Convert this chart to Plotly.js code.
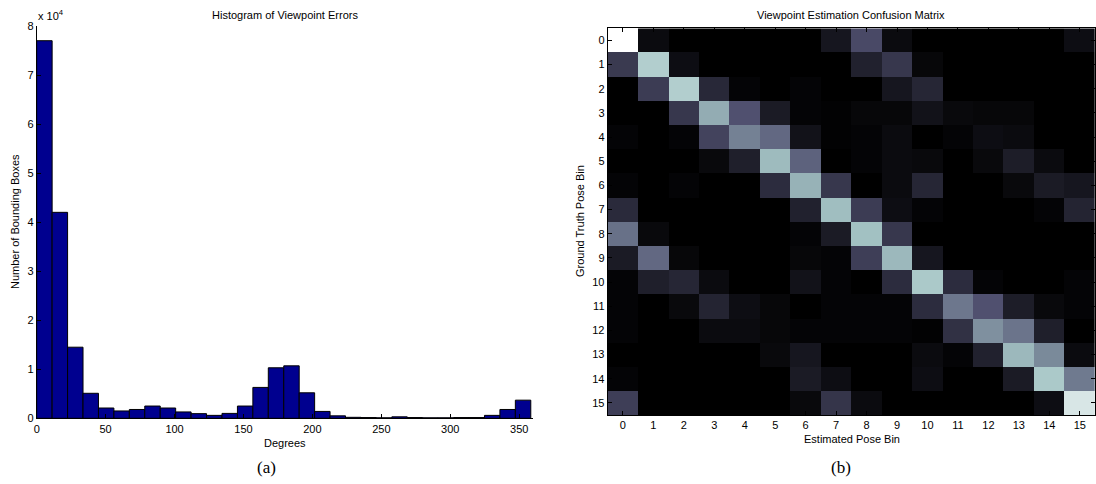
<!DOCTYPE html>
<html>
<head>
<meta charset="utf-8">
<script src="https://cdn.plot.ly/plotly-3.0.1.min.js"></script>
<style>html,body{margin:0;padding:0;background:#fff;}#chart{width:1096px;height:484px;}</style>
</head>
<body>
<div id="chart"></div>
<script>
// Histogram of viewpoint errors: 32 bins of 11.2 degrees starting at 0
const binWidth = 11.2;
const histCounts = [77000, 42000, 14500, 5100, 2100, 1500, 1800, 2500, 2100, 1300, 950, 600, 1000, 2500, 6300, 10300,
                    10700, 5200, 1400, 500, 200, 150, 100, 300, 150, 100, 100, 150, 150, 600, 1800, 3700];
const binCenters = histCounts.map((_, i) => (i + 0.5) * binWidth);
const histTickVals = [0, 50, 100, 150, 200, 250, 300, 350];
const histYTickVals = [0, 10000, 20000, 30000, 40000, 50000, 60000, 70000, 80000];
const histYTickText = ['0', '1', '2', '3', '4', '5', '6', '7', '8'];

// Confusion matrix (row = ground truth bin, column = estimated bin), normalised 0..1
const poseBins = [0, 1, 2, 3, 4, 5, 6, 7, 8, 9, 10, 11, 12, 13, 14, 15];
const confusion = [
  [1.00, 0.05, 0.00, 0.00, 0.00, 0.00, 0.00, 0.10, 0.33, 0.05, 0.00, 0.00, 0.00, 0.00, 0.00, 0.06],
  [0.26, 0.78, 0.06, 0.00, 0.00, 0.00, 0.00, 0.00, 0.15, 0.25, 0.03, 0.00, 0.00, 0.00, 0.00, 0.00],
  [0.00, 0.27, 0.78, 0.18, 0.02, 0.00, 0.02, 0.00, 0.00, 0.10, 0.17, 0.00, 0.00, 0.00, 0.00, 0.00],
  [0.00, 0.00, 0.25, 0.66, 0.36, 0.12, 0.02, 0.01, 0.03, 0.03, 0.08, 0.04, 0.03, 0.03, 0.00, 0.00],
  [0.02, 0.00, 0.02, 0.30, 0.52, 0.44, 0.08, 0.01, 0.02, 0.05, 0.00, 0.02, 0.06, 0.05, 0.00, 0.00],
  [0.00, 0.00, 0.00, 0.04, 0.14, 0.71, 0.42, 0.00, 0.02, 0.05, 0.04, 0.00, 0.04, 0.13, 0.05, 0.00],
  [0.02, 0.00, 0.02, 0.00, 0.00, 0.20, 0.68, 0.25, 0.00, 0.05, 0.17, 0.00, 0.00, 0.04, 0.12, 0.10],
  [0.19, 0.00, 0.00, 0.00, 0.00, 0.00, 0.15, 0.72, 0.27, 0.06, 0.02, 0.00, 0.00, 0.00, 0.02, 0.16],
  [0.47, 0.04, 0.00, 0.00, 0.00, 0.00, 0.02, 0.12, 0.73, 0.25, 0.00, 0.00, 0.00, 0.00, 0.00, 0.00],
  [0.12, 0.44, 0.03, 0.00, 0.00, 0.00, 0.03, 0.02, 0.28, 0.70, 0.10, 0.00, 0.00, 0.00, 0.00, 0.00],
  [0.02, 0.14, 0.17, 0.05, 0.00, 0.00, 0.08, 0.02, 0.00, 0.20, 0.76, 0.20, 0.02, 0.00, 0.00, 0.02],
  [0.02, 0.00, 0.04, 0.16, 0.06, 0.03, 0.00, 0.02, 0.02, 0.02, 0.20, 0.49, 0.36, 0.13, 0.04, 0.02],
  [0.02, 0.00, 0.00, 0.05, 0.05, 0.03, 0.02, 0.02, 0.02, 0.02, 0.01, 0.22, 0.57, 0.48, 0.14, 0.00],
  [0.00, 0.00, 0.00, 0.00, 0.00, 0.04, 0.10, 0.00, 0.00, 0.00, 0.05, 0.02, 0.15, 0.70, 0.55, 0.05],
  [0.02, 0.00, 0.00, 0.00, 0.00, 0.00, 0.12, 0.06, 0.00, 0.00, 0.06, 0.00, 0.00, 0.12, 0.76, 0.50],
  [0.28, 0.00, 0.00, 0.00, 0.00, 0.00, 0.04, 0.24, 0.05, 0.00, 0.00, 0.00, 0.00, 0.00, 0.06, 0.89]
];

// MATLAB "bone" colormap
const boneScale = [
  [0, 'rgb(0,0,0)'],
  [0.365, 'rgb(81,81,113)'],
  [0.746, 'rgb(166,198,198)'],
  [1, 'rgb(255,255,255)']
];

const W = 1096, H = 484;
const px = v => v / W;
const py = v => 1 - v / H;
const sans = 'Liberation Sans, Arial, sans-serif';
const serif = 'Liberation Serif, Times New Roman, serif';

const traces = [
  {
    type: 'bar', x: binCenters, y: histCounts, width: binWidth,
    marker: {color: 'rgb(0,0,143)', line: {color: '#000', width: 1}},
    xaxis: 'x', yaxis: 'y', hoverinfo: 'x+y'
  },
  {
    type: 'heatmap', x: poseBins, y: poseBins, z: confusion,
    colorscale: boneScale, zmin: 0, zmax: 1, showscale: false,
    xaxis: 'x2', yaxis: 'y2'
  }
];

const tickFont = {family: sans, size: 11, color: '#000'};
const labFont = {family: sans, size: 11, color: '#000'};
const layout = {
  width: W, height: H,
  margin: {l: 0, r: 0, t: 0, b: 0},
  paper_bgcolor: '#fff', plot_bgcolor: '#fff',
  showlegend: false,
  bargap: 0,
  xaxis: {
    domain: [px(36.7), px(533)], range: [0, 360],
    tickvals: histTickVals, ticks: 'inside', ticklen: 4, tickcolor: '#000',
    showline: true, linecolor: '#000', linewidth: 1, showgrid: false, zeroline: false,
    tickfont: tickFont, anchor: 'y'
  },
  yaxis: {
    domain: [py(418.3), py(26)], range: [0, 80000],
    tickvals: histYTickVals, ticktext: histYTickText, ticks: 'inside', ticklen: 4, tickcolor: '#000',
    showline: true, linecolor: '#000', linewidth: 1, showgrid: false, zeroline: false,
    tickfont: tickFont, anchor: 'x'
  },
  xaxis2: {
    domain: [px(607.7), px(1095)], range: [-0.5, 15.5],
    tickvals: poseBins, ticks: 'inside', ticklen: 4, tickcolor: '#000',
    showline: true, mirror: 'ticks', linecolor: '#000', linewidth: 1,
    showgrid: false, zeroline: false, tickfont: tickFont, anchor: 'y2'
  },
  yaxis2: {
    domain: [py(415), py(28.3)], range: [15.5, -0.5],
    tickvals: poseBins, ticks: 'inside', ticklen: 4, tickcolor: '#000',
    showline: true, mirror: 'ticks', linecolor: '#000', linewidth: 1,
    showgrid: false, zeroline: false, tickfont: tickFont, anchor: 'x2'
  },
  annotations: [
    {text: 'Histogram of Viewpoint Errors', xref: 'paper', yref: 'paper', x: px(285), y: py(15),
     showarrow: false, xanchor: 'center', yanchor: 'middle', font: labFont},
    {text: 'x 10<sup>4</sup>', xref: 'paper', yref: 'paper', x: px(36), y: py(15),
     showarrow: false, xanchor: 'left', yanchor: 'middle', font: labFont},
    {text: 'Degrees', xref: 'paper', yref: 'paper', x: px(285), y: py(443),
     showarrow: false, xanchor: 'center', yanchor: 'middle', font: labFont},
    {text: 'Number of Bounding Boxes', xref: 'paper', yref: 'paper', x: px(15), y: py(222), textangle: -90,
     showarrow: false, xanchor: 'center', yanchor: 'middle', font: labFont},
    {text: 'Viewpoint Estimation Confusion Matrix', xref: 'paper', yref: 'paper', x: px(851), y: py(15),
     showarrow: false, xanchor: 'center', yanchor: 'middle', font: labFont},
    {text: 'Estimated Pose Bin', xref: 'paper', yref: 'paper', x: px(852), y: py(439),
     showarrow: false, xanchor: 'center', yanchor: 'middle', font: labFont},
    {text: 'Ground Truth Pose Bin', xref: 'paper', yref: 'paper', x: px(580), y: py(221), textangle: -90,
     showarrow: false, xanchor: 'center', yanchor: 'middle', font: labFont},
    {text: '(a)', xref: 'paper', yref: 'paper', x: px(266), y: py(467),
     showarrow: false, xanchor: 'center', yanchor: 'middle', font: {family: serif, size: 17, color: '#000'}},
    {text: '(b)', xref: 'paper', yref: 'paper', x: px(841), y: py(467),
     showarrow: false, xanchor: 'center', yanchor: 'middle', font: {family: serif, size: 17, color: '#000'}}
  ]
};

Plotly.newPlot('chart', traces, layout, {displayModeBar: false, staticPlot: true});
</script>
</body>
</html>
